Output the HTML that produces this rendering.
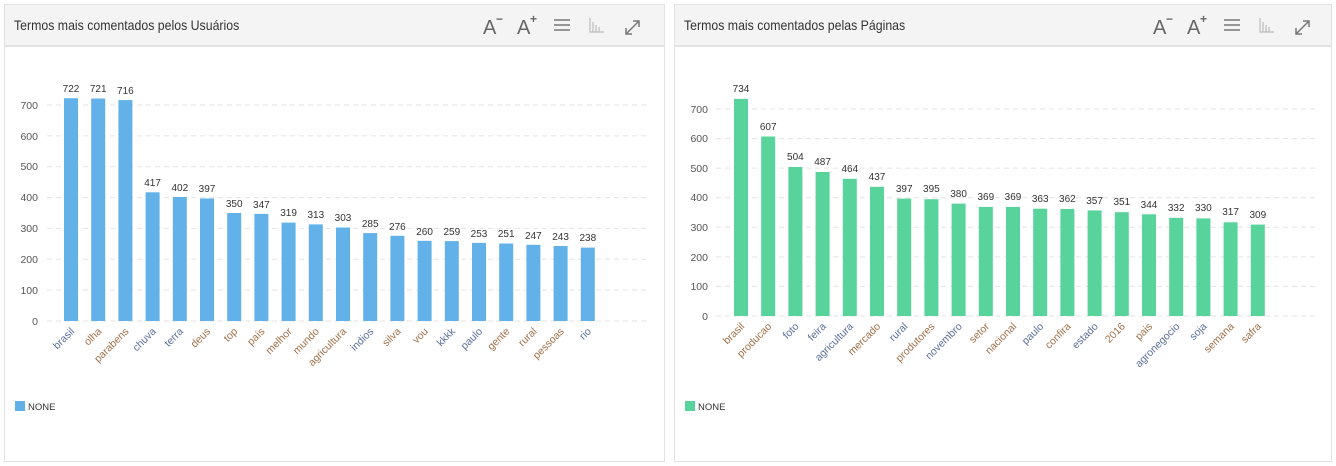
<!DOCTYPE html>
<html><head><meta charset="utf-8"><style>
body{margin:0;background:#fff;width:1336px;height:466px;overflow:hidden;font-family:"Liberation Sans",sans-serif}
.p{position:absolute;top:4px;height:456px;border:1px solid #e2e2e2;background:#fff}
.h{height:40px;background:#f4f4f4;border-bottom:2px solid #e4e4e4;font-size:14px;color:#333;line-height:40px;padding-left:9px}
.h span{display:inline-block;transform:scaleX(0.88);transform-origin:left center}
svg{position:absolute;left:0;top:0}
</style></head><body>
<div class="p" style="left:4px;width:659px"><div class="h"><span>Termos mais comentados pelos Usuários</span></div></div>
<div class="p" style="left:674px;width:656px"><div class="h"><span>Termos mais comentados pelas Páginas</span></div></div>
<svg width="1336" height="466" font-family="Liberation Sans, sans-serif">
<g fill="#666" font-size="20">
<text x="483" y="34">A</text><text x="496" y="23" font-size="12" font-weight="bold">−</text>
<text x="517" y="34">A</text><text x="530" y="23" font-size="12" font-weight="bold">+</text>
<text x="1153" y="34">A</text><text x="1166" y="23" font-size="12" font-weight="bold">−</text>
<text x="1187" y="34">A</text><text x="1200" y="23" font-size="12" font-weight="bold">+</text>
</g>
<g stroke="#777" stroke-width="1.5" fill="none">
<path d="M554 20h16M554 25h16M554 30h16M1224 20h16M1224 25h16M1224 30h16"/>
<path d="M626 34l13-13M633 21h6v6M626 28v6h6M1296 34l13-13M1303 21h6v6M1296 28v6h6"/>
</g>
<g stroke="#bbb" stroke-width="1.2" fill="none"><path d="M590 18v14h14M593 32v-10M596 32v-7M599 32v-5M1260 18v14h14M1263 32v-10M1266 32v-7M1269 32v-5"/></g>

<g stroke="#e3e3e3" stroke-dasharray="5,4">
<path d="M47 321H650M47 290.1H650M47 259.3H650M47 228.4H650M47 197.6H650M47 166.7H650M47 135.9H650M47 105H650"/>
<path d="M716 316H1318M716 286.4H1318M716 256.9H1318M716 227.3H1318M716 197.7H1318M716 168.1H1318M716 138.6H1318M716 109H1318"/>
</g>
<g fill="#555" font-size="10.5" text-anchor="end">
<text x="38" y="325">0</text><text x="38" y="294">100</text><text x="38" y="263">200</text><text x="38" y="232">300</text><text x="38" y="201">400</text><text x="38" y="170">500</text><text x="38" y="140">600</text><text x="38" y="109">700</text>
<text x="708" y="320">0</text><text x="708" y="290">100</text><text x="708" y="261">200</text><text x="708" y="231">300</text><text x="708" y="201">400</text><text x="708" y="172">500</text><text x="708" y="142">600</text><text x="708" y="113">700</text>
</g>

<g fill="#62b1e8">
<rect x="64" y="98.2" width="14" height="222.8"/><rect x="91.2" y="98.5" width="14" height="222.5"/><rect x="118.4" y="100.1" width="14" height="220.9"/><rect x="145.6" y="192.3" width="14" height="128.7"/><rect x="172.8" y="197" width="14" height="124"/><rect x="200" y="198.5" width="14" height="122.5"/><rect x="227.2" y="213" width="14" height="108"/><rect x="254.4" y="213.9" width="14" height="107.1"/><rect x="281.6" y="222.6" width="14" height="98.4"/><rect x="308.8" y="224.4" width="14" height="96.6"/><rect x="336" y="227.5" width="14" height="93.5"/><rect x="363.2" y="233.1" width="14" height="87.9"/><rect x="390.4" y="235.8" width="14" height="85.2"/><rect x="417.6" y="240.8" width="14" height="80.2"/><rect x="444.8" y="241.1" width="14" height="79.9"/><rect x="472" y="242.9" width="14" height="78.1"/><rect x="499.2" y="243.5" width="14" height="77.5"/><rect x="526.4" y="244.8" width="14" height="76.2"/><rect x="553.6" y="246" width="14" height="75"/><rect x="580.8" y="247.6" width="14" height="73.4"/>
</g>
<g fill="#333" font-size="10" text-anchor="middle">
<text x="71" y="92">722</text><text x="98.2" y="92">721</text><text x="125.4" y="94">716</text><text x="152.6" y="186">417</text><text x="179.8" y="191">402</text><text x="207" y="192">397</text><text x="234.2" y="207">350</text><text x="261.4" y="208">347</text><text x="288.6" y="216">319</text><text x="315.8" y="218">313</text><text x="343" y="221">303</text><text x="370.2" y="227">285</text><text x="397.4" y="230">276</text><text x="424.6" y="235">260</text><text x="451.8" y="235">259</text><text x="479" y="237">253</text><text x="506.2" y="237">251</text><text x="533.4" y="239">247</text><text x="560.6" y="240">243</text><text x="587.8" y="241">238</text>
</g>
<g font-size="10.5" text-anchor="end">
<text transform="translate(75,332) rotate(-45)" fill="#5b6f9a">brasil</text>
<text transform="translate(102.2,332) rotate(-45)" fill="#a0704a">olha</text>
<text transform="translate(129.4,332) rotate(-45)" fill="#a0704a">parabens</text>
<text transform="translate(156.6,332) rotate(-45)" fill="#5b6f9a">chuva</text>
<text transform="translate(183.8,332) rotate(-45)" fill="#5b6f9a">terra</text>
<text transform="translate(211,332) rotate(-45)" fill="#a0704a">deus</text>
<text transform="translate(238.2,332) rotate(-45)" fill="#a0704a">top</text>
<text transform="translate(265.4,332) rotate(-45)" fill="#a0704a">país</text>
<text transform="translate(292.6,332) rotate(-45)" fill="#a0704a">melhor</text>
<text transform="translate(319.8,332) rotate(-45)" fill="#a0704a">mundo</text>
<text transform="translate(347,332) rotate(-45)" fill="#a0704a">agricultura</text>
<text transform="translate(374.2,332) rotate(-45)" fill="#5b6f9a">indios</text>
<text transform="translate(401.4,332) rotate(-45)" fill="#a0704a">silva</text>
<text transform="translate(428.6,332) rotate(-45)" fill="#a0704a">vou</text>
<text transform="translate(455.8,332) rotate(-45)" fill="#5b6f9a">kkkk</text>
<text transform="translate(483,332) rotate(-45)" fill="#5b6f9a">paulo</text>
<text transform="translate(510.2,332) rotate(-45)" fill="#a0704a">gente</text>
<text transform="translate(537.4,332) rotate(-45)" fill="#a0704a">rural</text>
<text transform="translate(564.6,332) rotate(-45)" fill="#a0704a">pessoas</text>
<text transform="translate(591.8,332) rotate(-45)" fill="#5b6f9a">rio</text>
</g>

<g fill="#58d39b">
<rect x="734" y="98.9" width="14" height="217.1"/><rect x="761.2" y="136.5" width="14" height="179.5"/><rect x="788.4" y="167" width="14" height="149"/><rect x="815.6" y="172" width="14" height="144"/><rect x="842.8" y="178.8" width="14" height="137.2"/><rect x="870" y="186.8" width="14" height="129.2"/><rect x="897.2" y="198.6" width="14" height="117.4"/><rect x="924.4" y="199.2" width="14" height="116.8"/><rect x="951.6" y="203.6" width="14" height="112.4"/><rect x="978.8" y="206.9" width="14" height="109.1"/><rect x="1006" y="206.9" width="14" height="109.1"/><rect x="1033.2" y="208.7" width="14" height="107.3"/><rect x="1060.4" y="209" width="14" height="107"/><rect x="1087.6" y="210.4" width="14" height="105.6"/><rect x="1114.8" y="212.2" width="14" height="103.8"/><rect x="1142" y="214.3" width="14" height="101.7"/><rect x="1169.2" y="217.8" width="14" height="98.2"/><rect x="1196.4" y="218.4" width="14" height="97.6"/><rect x="1223.6" y="222.3" width="14" height="93.7"/><rect x="1250.8" y="224.6" width="14" height="91.4"/>
</g>
<g fill="#333" font-size="10" text-anchor="middle">
<text x="741" y="92">734</text><text x="768.2" y="130">607</text><text x="795.4" y="160">504</text><text x="822.6" y="165">487</text><text x="849.8" y="172">464</text><text x="877" y="180">437</text><text x="904.2" y="192">397</text><text x="931.4" y="192">395</text><text x="958.6" y="197">380</text><text x="985.8" y="200">369</text><text x="1013" y="200">369</text><text x="1040.2" y="202">363</text><text x="1067.4" y="202">362</text><text x="1094.6" y="204">357</text><text x="1121.8" y="205">351</text><text x="1149" y="208">344</text><text x="1176.2" y="211">332</text><text x="1203.4" y="211">330</text><text x="1230.6" y="215">317</text><text x="1257.8" y="218">309</text>
</g>
<g font-size="10.5" text-anchor="end">
<text transform="translate(745,327) rotate(-45)" fill="#a0704a">brasil</text>
<text transform="translate(772.2,327) rotate(-45)" fill="#a0704a">producao</text>
<text transform="translate(799.4,327) rotate(-45)" fill="#5b6f9a">foto</text>
<text transform="translate(826.6,327) rotate(-45)" fill="#5b6f9a">feira</text>
<text transform="translate(853.8,327) rotate(-45)" fill="#5b6f9a">agricultura</text>
<text transform="translate(881,327) rotate(-45)" fill="#a0704a">mercado</text>
<text transform="translate(908.2,327) rotate(-45)" fill="#5b6f9a">rural</text>
<text transform="translate(935.4,327) rotate(-45)" fill="#a0704a">produtores</text>
<text transform="translate(962.6,327) rotate(-45)" fill="#5b6f9a">novembro</text>
<text transform="translate(989.8,327) rotate(-45)" fill="#a0704a">setor</text>
<text transform="translate(1017,327) rotate(-45)" fill="#a0704a">nacional</text>
<text transform="translate(1044.2,327) rotate(-45)" fill="#5b6f9a">paulo</text>
<text transform="translate(1071.4,327) rotate(-45)" fill="#a0704a">confira</text>
<text transform="translate(1098.6,327) rotate(-45)" fill="#5b6f9a">estado</text>
<text transform="translate(1125.8,327) rotate(-45)" fill="#a0704a">2016</text>
<text transform="translate(1153,327) rotate(-45)" fill="#a0704a">pais</text>
<text transform="translate(1180.2,327) rotate(-45)" fill="#5b6f9a">agronegocio</text>
<text transform="translate(1207.4,327) rotate(-45)" fill="#5b6f9a">soja</text>
<text transform="translate(1234.6,327) rotate(-45)" fill="#a0704a">semana</text>
<text transform="translate(1261.8,327) rotate(-45)" fill="#a0704a">safra</text>
</g>

<rect x="15" y="401" width="10" height="10" fill="#62b1e8"/>
<text x="28" y="410" font-size="9.5" fill="#333">NONE</text>
<rect x="685" y="401" width="10" height="10" fill="#58d39b"/>
<text x="698" y="410" font-size="9.5" fill="#333">NONE</text>
</svg>
</body></html>
